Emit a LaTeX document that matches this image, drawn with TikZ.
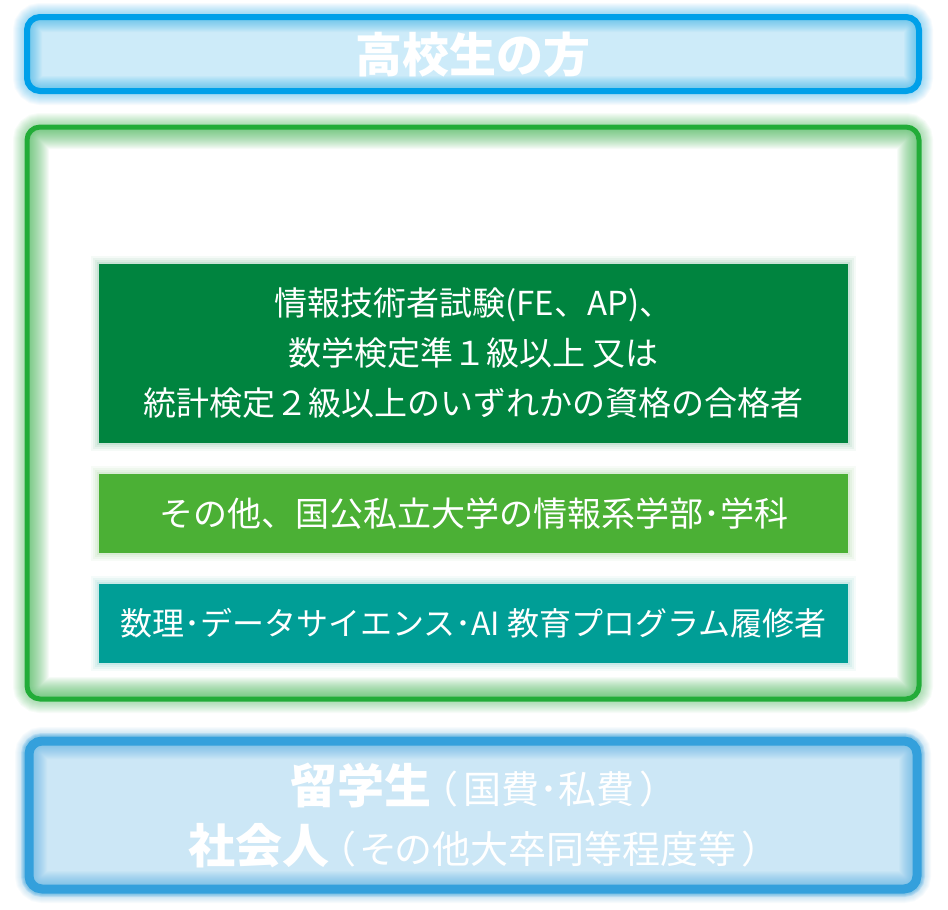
\documentclass[tikz,border=0pt]{standalone}
\usepackage{fontspec}
\setmainfont{Noto Sans CJK JP}
\definecolor{topblue}{RGB}{0,160,233}
\definecolor{topfill}{RGB}{205,235,249}
\definecolor{grnb}{RGB}{34,172,56}
\definecolor{dkgreen}{RGB}{0,132,63}
\definecolor{ltgreen}{RGB}{75,176,53}
\definecolor{tealbox}{RGB}{0,158,150}
\definecolor{botblue}{RGB}{52,160,220}
\definecolor{botfill}{RGB}{204,231,246}
\newcommand\glowframe[8]{%
  \foreach \w in {8,10,...,28}{\draw[#5,opacity=0.035,line width=\w pt,rounded corners=13pt] (#1,#2) rectangle (#3,#4);}
  \fill[#6,rounded corners=13pt] (#1,#2) rectangle (#3,#4);
  \begin{scope}
    \clip[rounded corners=13pt] (#1,#2) rectangle (#3,#4);
    \foreach \w in {6,8,...,#8}{\draw[#5,opacity=0.04,line width=\w pt,rounded corners=13pt] (#1,#2) rectangle (#3,#4);}
  \end{scope}
  \draw[#5,line width=#7,rounded corners=13pt] (#1,#2) rectangle (#3,#4);
}
\tikzset{
  inbox/.style={minimum width=749pt, inner sep=0pt, text=white, align=center,
    font=\fontsize{33}{50}\selectfont},
  halo/.style={preaction={draw=#1, line width=16pt, opacity=0.04},
               preaction={draw=#1, line width=12pt, opacity=0.05},
               preaction={draw=#1, line width=8pt, opacity=0.06},
               preaction={draw=#1, line width=4pt, opacity=0.08}}
}
\begin{document}
\begin{tikzpicture}[x=1pt,y=-1pt]
\useasboundingbox (0,0) rectangle (948,910);
\fill[white] (0,0) rectangle (948,910);
% top box
\glowframe{27}{17}{919}{91}{topblue}{topfill}{6pt}{30}
\node[text=white, font=\bfseries\fontsize{47}{47}\selectfont] (hs) at (473,55) {高校生の方};
% green frame
\glowframe{27}{127}{919}{699}{grnb}{white}{5pt}{44}
\node[inbox, fill=dkgreen, minimum height=179pt, halo=dkgreen] (qual) at (473.5,353.5)
  {情報技術者試験(FE、AP)、\\数学検定準１級以上 又は\\統計検定２級以上のいずれかの資格の合格者};
\node[inbox, fill=ltgreen, minimum height=79pt, halo=ltgreen, font=\fontsize{34}{50}\selectfont] (univ) at (473.5,513.5)
  {その他、国公私立大学の情報系学部･学科};
\node[inbox, fill=tealbox, minimum height=79pt, halo=tealbox, font=\fontsize{32}{50}\selectfont] (prog) at (473.5,623.5)
  {数理･データサイエンス･AI 教育プログラム履修者};
% bottom box
\foreach \w in {12,14,16}{\draw[botblue,opacity=0.15,line width=\w pt,rounded corners=13pt] (29,741) rectangle (917,889);}
\glowframe{29}{741}{917}{889}{botblue}{botfill}{9pt}{36}
\node[text=white, align=center, font=\fontsize{38}{60}\selectfont\addfontfeatures{RawFeature=+palt}] (other) at (475,815)
  {{\bfseries\fontsize{47}{60}\selectfont 留学生}\,（\,国費･私費\,）\\{\bfseries\fontsize{47}{60}\selectfont 社会人}\,（\,その他大卒同等程度等\,）};
\end{tikzpicture}
\end{document}
